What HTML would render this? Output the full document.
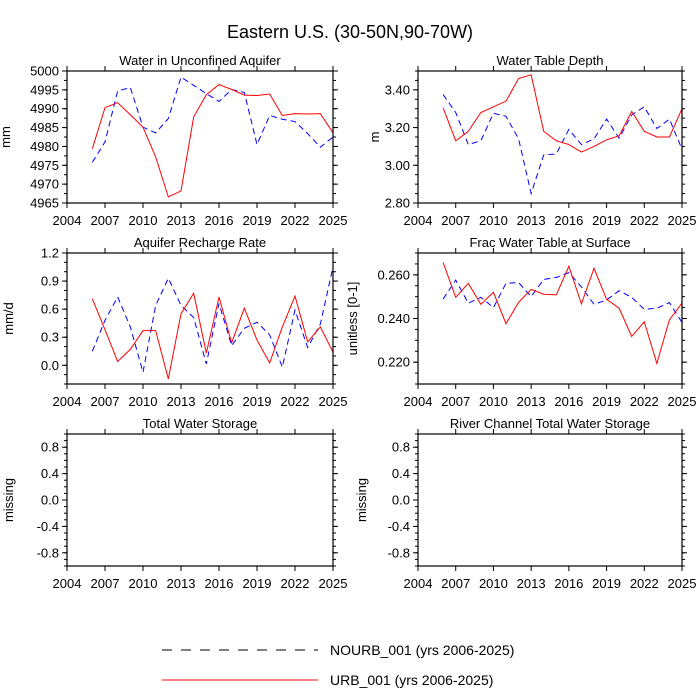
<!DOCTYPE html>
<html><head><meta charset="utf-8"><style>
html,body{margin:0;padding:0;background:#fff;}
svg{display:block;font-family:"Liberation Sans",sans-serif;}
</style></head><body>
<svg id="c" width="700" height="700" viewBox="0 0 700 700">
<text x="350" y="38" font-size="18" text-anchor="middle">Eastern U.S. (30-50N,90-70W)</text>
<g>
<line x1="162" y1="650" x2="318" y2="650" stroke="#000" stroke-width="1" stroke-dasharray="10,9"/>
<text x="330" y="655" font-size="14">NOURB_001 (yrs 2006-2025)</text>
<line x1="162" y1="680" x2="318" y2="680" stroke="#f00" stroke-width="1"/>
<text x="330" y="685" font-size="14">URB_001 (yrs 2006-2025)</text>
</g>
</svg>
<script>
const years=[2006,2007,2008,2009,2010,2011,2012,2013,2014,2015,2016,2017,2018,2019,2020,2021,2022,2023,2024,2025];
const xTicks=[2004,2007,2010,2013,2016,2019,2022,2025];
const aquiferUrb=[4979.4,4990.3,4991.6,4988.4,4985.1,4977.2,4966.6,4968.2,4987.8,4993.7,4996.4,4995.1,4993.6,4993.5,4993.9,4988.2,4988.7,4988.6,4988.7,4983.6];
const aquiferNourb=[4975.8,4981.2,4994.7,4995.6,4985.1,4983.6,4987.4,4998.4,4996.2,4994.0,4991.9,4995.1,4994.3,4980.5,4988.2,4987.2,4986.6,4983.4,4979.8,4982.5];
const wtdUrb=[3.304,3.13,3.18,3.28,3.31,3.34,3.46,3.48,3.18,3.13,3.11,3.07,3.10,3.135,3.156,3.286,3.18,3.15,3.15,3.30];
const wtdNourb=[3.375,3.28,3.11,3.13,3.276,3.26,3.14,2.85,3.055,3.06,3.19,3.11,3.14,3.245,3.144,3.267,3.31,3.195,3.245,3.085];
const rechUrb=[0.71,0.38,0.04,0.17,0.37,0.37,-0.145,0.55,0.77,0.13,0.73,0.24,0.61,0.27,0.025,0.41,0.74,0.25,0.41,0.14];
const rechNourb=[0.15,0.48,0.73,0.41,-0.075,0.64,0.93,0.64,0.51,0.015,0.66,0.21,0.395,0.46,0.325,-0.02,0.59,0.19,0.44,1.05];
const fracUrb=[0.2656,0.2497,0.2561,0.2465,0.252,0.2376,0.2474,0.2533,0.2511,0.2508,0.2639,0.2467,0.263,0.2488,0.2447,0.2318,0.2385,0.2194,0.2394,0.247];
const fracNourb=[0.2489,0.2576,0.247,0.2497,0.245,0.2561,0.2565,0.25,0.2579,0.2588,0.261,0.2545,0.2465,0.2485,0.2527,0.2497,0.2442,0.2447,0.2473,0.2382];
const aquiferTicks=["4965","4970","4975","4980","4985","4990","4995","5000"];
const wtdTicks=["2.80","3.00","3.20","3.40"];
const rechTicks=["0.0","0.3","0.6","0.9","1.2"];
const fracTicks=["0.220","0.240","0.260"];
const missTicks=["-0.8","-0.4","0.0","0.4","0.8"];

const NS="http://www.w3.org/2000/svg";
const svg=document.getElementById('c');
function mk(tag,attrs,parent){const e=document.createElementNS(NS,tag);for(const k in attrs)e.setAttribute(k,attrs[k]);(parent||svg).appendChild(e);return e;}

const panels=[
 {name:'aquifer',title:'Water in Unconfined Aquifer',ylab:'mm',lx:10,x0:67,x1:333,y0:71,y1:203,ymin:4965,ymax:5000,ticks:aquiferTicks,minor:2.5,urb:aquiferUrb,nourb:aquiferNourb},
 {name:'water-table-depth',title:'Water Table Depth',ylab:'m',lx:379,x0:418,x1:682,y0:71,y1:203,ymin:2.8,ymax:3.5,ticks:wtdTicks,minor:0.05,urb:wtdUrb,nourb:wtdNourb},
 {name:'recharge',title:'Aquifer Recharge Rate',ylab:'mm/d',lx:13,x0:67,x1:333,y0:253,y1:384,ymin:-0.2,ymax:1.2,ticks:rechTicks,minor:0.1,urb:rechUrb,nourb:rechNourb},
 {name:'frac-water-table',title:'Frac Water Table at Surface',ylab:'unitless [0-1]',lx:357,x0:418,x1:682,y0:253,y1:384,ymin:0.21,ymax:0.27,ticks:fracTicks,minor:0.005,urb:fracUrb,nourb:fracNourb},
 {name:'total-water-storage',title:'Total Water Storage',ylab:'missing',lx:13,x0:67,x1:333,y0:434,y1:566,ymin:-1,ymax:1,ticks:missTicks,minor:0.1,urb:null,nourb:null},
 {name:'river-storage',title:'River Channel Total Water Storage',ylab:'missing',lx:366,x0:418,x1:682,y0:434,y1:566,ymin:-1,ymax:1,ticks:missTicks,minor:0.1,urb:null,nourb:null}
];

panels.forEach(p=>{
 const g=mk('g',{});
 
 
 const xs=v=>p.x0+(v-2004)/(2025-2004)*(p.x1-p.x0);
 const ys=v=>p.y1-(v-p.ymin)/(p.ymax-p.ymin)*(p.y1-p.y0);
 const t=mk('text',{x:(p.x0+p.x1)/2,y:p.y0-6,'font-size':13,'text-anchor':'middle'},g);
 t.textContent=p.title;
 
 
 const n=Math.round((p.ymax-p.ymin)/p.minor);
 for(let i=0;i<=n;i++){const v=p.ymin+i*p.minor,y=ys(v);
  mk('line',{x1:p.x0-3,x2:p.x0,y1:y,y2:y,stroke:'#000','stroke-width':1},g);
  mk('line',{x1:p.x1,x2:p.x1+3,y1:y,y2:y,stroke:'#000','stroke-width':1},g);}
 p.ticks.forEach(s=>{const y=ys(parseFloat(s));
  mk('line',{x1:p.x0-5,x2:p.x0,y1:y,y2:y,stroke:'#000','stroke-width':1},g);
  mk('line',{x1:p.x1,x2:p.x1+5,y1:y,y2:y,stroke:'#000','stroke-width':1},g);
  const l=mk('text',{x:p.x0-8,y:y+4.5,'font-size':13,'text-anchor':'end'},g);l.textContent=s;
  
  });
 xTicks.forEach(v=>{const x=xs(v);
  mk('line',{x1:x,x2:x,y1:p.y1,y2:p.y1+5,stroke:'#000','stroke-width':1},g);
  mk('line',{x1:x,x2:x,y1:p.y0-5,y2:p.y0,stroke:'#000','stroke-width':1},g);
  const l=mk('text',{x:x,y:p.y1+22,'font-size':13,'text-anchor':'middle'},g);l.textContent=v;
  
  });
 const yl=mk('text',{'font-size':13,'text-anchor':'middle',transform:`translate(${p.lx},${(p.y0+p.y1)/2}) rotate(-90)`},g);
 yl.textContent=p.ylab;
 
 
 if(p.urb){
  const pn=mk('polyline',{points:years.map((yr,i)=>xs(yr)+','+ys(p.nourb[i])).join(' '),fill:'none',stroke:'#00f','stroke-width':1,'stroke-dasharray':'6,4'},g);
  
  
  const pu=mk('polyline',{points:years.map((yr,i)=>xs(yr)+','+ys(p.urb[i])).join(' '),fill:'none',stroke:'#f00','stroke-width':1},g);
  
  
 }
 const r=mk('rect',{x:p.x0,y:p.y0,width:p.x1-p.x0,height:p.y1-p.y0,fill:'none',stroke:'#000','stroke-width':1.2},g);
 
 
});
</script>
</body></html>
